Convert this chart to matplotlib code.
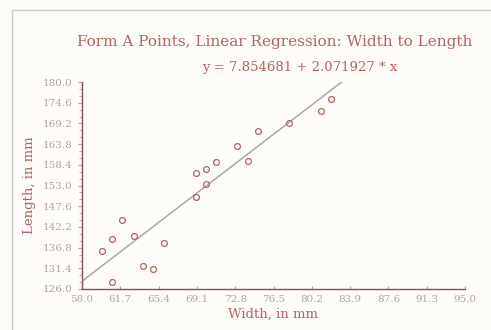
import numpy as np
import matplotlib
matplotlib.use("Agg")
import matplotlib.pyplot as plt
from matplotlib.patches import Rectangle

# measured points (width, length) in mm
width = [59.9, 60.9, 60.9, 61.9, 63.0, 63.9, 64.9, 65.9, 69.0, 69.0,
         69.95, 69.95, 70.9, 73.0, 74.0, 75.0, 78.0, 81.1, 82.1]
length = [136.0, 139.0, 127.9, 144.0, 139.9, 132.1, 131.2, 138.1, 150.1, 156.2,
          157.3, 153.3, 159.2, 163.4, 159.4, 167.3, 169.3, 172.5, 175.5]

intercept = 7.854681
slope = 2.071927

x_ticks = [58.0, 61.7, 65.4, 69.1, 72.8, 76.5, 80.2, 83.9, 87.6, 91.3, 95.0]
y_ticks = [126.0, 131.4, 136.8, 142.2, 147.6, 153.0, 158.4, 163.8, 169.2, 174.6, 180.0]

RED = "#b06464"
GREY = "#b3a3a3"

plt.rcParams["font.family"] = "DejaVu Serif"

fig = plt.figure(figsize=(4.91, 3.30), dpi=100)
fig.patch.set_facecolor("#fdfcf8")
fig.patches.append(Rectangle((12 / 491, -0.1), 1.2, 1 - 10 / 330 + 0.1,
                             transform=fig.transFigure, fill=False,
                             edgecolor="#c8c8c8", linewidth=1.0))

ax = fig.add_axes([82 / 491, 1 - 289 / 330, 383 / 491, 207 / 330])
ax.set_facecolor("none")

xs = np.array([58.0, 95.0])
ax.plot(xs, intercept + slope * xs, color="#a8a8a8", linewidth=1.1, zorder=1)
ax.plot(width, length, linestyle="none", marker="o", markersize=4.2,
        markerfacecolor="none", markeredgecolor=RED, markeredgewidth=0.9, zorder=2)

ax.set_xlim(58.0, 95.0)
ax.set_ylim(126.0, 180.0)
ax.set_xticks(x_ticks)
ax.set_xticklabels([f"{v:.1f}" for v in x_ticks])
ax.set_yticks(y_ticks)
ax.set_yticklabels([f"{v:.1f}" for v in y_ticks])
ax.set_yticks(np.arange(126.0, 180.01, 1.8), minor=True)
ax.tick_params(axis="both", labelsize=7.5, colors=GREY, labelcolor=GREY)
ax.tick_params(axis="x", direction="in", length=2, pad=4)
ax.tick_params(axis="y", direction="out", length=3)
ax.tick_params(axis="y", which="minor", direction="out", length=2, color=GREY)
for s in ("top", "right"):
    ax.spines[s].set_visible(False)
for s in ("left", "bottom"):
    ax.spines[s].set_color("#8a5050")
    ax.spines[s].set_linewidth(1.0)

ax.set_xlabel("Width, in mm", color=RED, fontsize=9.5, labelpad=3)
ax.set_ylabel("Length, in mm", color=RED, fontsize=9.5, labelpad=5)

fig.text(275 / 491, 1 - 42 / 330, "Form A Points, Linear Regression: Width to Length",
         ha="center", va="center", color=RED, fontsize=11)
fig.text(300 / 491, 1 - 67 / 330, "y = 7.854681 + 2.071927 * x",
         ha="center", va="center", color=RED, fontsize=9.5)

fig.savefig("out.png", dpi=100, facecolor=fig.get_facecolor())
